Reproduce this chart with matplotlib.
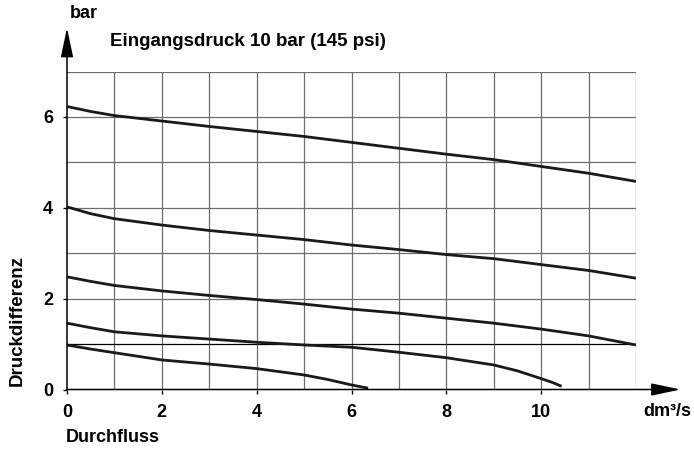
import numpy as np
import matplotlib
matplotlib.use('Agg')
import matplotlib.pyplot as plt

plt.rcParams['font.family'] = ['Liberation Sans', 'DejaVu Sans']
plt.rcParams['font.weight'] = 'bold'

# flow in dm3/s, pressure difference in bar
flow_a = [0, 0.5, 1, 2, 3, 4, 5, 6, 7, 8, 9, 10, 11, 12]
dp_a = [6.23, 6.12, 6.03, 5.91, 5.79, 5.68, 5.57, 5.44, 5.31, 5.18, 5.06, 4.91, 4.76, 4.58]

flow_b = [0, 0.5, 1, 2, 3, 4, 5, 6, 7, 8, 9, 10, 11, 12]
dp_b = [4.02, 3.87, 3.76, 3.62, 3.50, 3.40, 3.30, 3.18, 3.08, 2.97, 2.88, 2.75, 2.62, 2.45]

flow_c = [0, 0.5, 1, 2, 3, 4, 5, 6, 7, 8, 9, 10, 11, 12]
dp_c = [2.48, 2.38, 2.29, 2.17, 2.07, 1.98, 1.88, 1.77, 1.68, 1.57, 1.46, 1.33, 1.18, 0.98]

flow_d = [0, 0.5, 1, 2, 3, 4, 5, 6, 7, 8, 9, 9.5, 10, 10.25, 10.43]
dp_d = [1.46, 1.36, 1.27, 1.18, 1.11, 1.04, 0.98, 0.93, 0.82, 0.70, 0.54, 0.41, 0.24, 0.15, 0.07]

flow_e = [0, 0.5, 1, 2, 3, 4, 5, 5.5, 6, 6.35]
dp_e = [0.98, 0.89, 0.81, 0.65, 0.56, 0.46, 0.32, 0.22, 0.10, 0.03]

x_ticks = [0, 2, 4, 6, 8, 10]
y_ticks = [0, 2, 4, 6]

W, H = 694, 451
fig = plt.figure(figsize=(W / 100, H / 100), dpi=100)
ax = fig.add_axes([67 / W, (H - 389.5) / H, 569 / W, 318 / H])
ax.set_xlim(0, 12)
ax.set_ylim(0, 7)

# grid
for x in range(1, 13):
    ax.axvline(x, color='#6e6e6e', lw=0.9, zorder=1)
for y in range(1, 8):
    ax.axhline(y, color='black' if y == 1 else '#6e6e6e', lw=0.9, zorder=1)

for fx, fy in [(flow_a, dp_a), (flow_b, dp_b), (flow_c, dp_c), (flow_d, dp_d), (flow_e, dp_e)]:
    ax.plot(fx, fy, color='#1a1a1a', lw=2.0, solid_capstyle='butt', zorder=3)

for s in ax.spines.values():
    s.set_visible(False)

ax.set_xticks(x_ticks)
ax.set_yticks(y_ticks)
ax.set_xticklabels([str(v) for v in x_ticks])
ax.set_yticklabels([str(v) for v in y_ticks])
ax.tick_params(axis='both', direction='out', length=3, width=1.0, color='black',
               labelsize=13, pad=7.5)
ax.tick_params(axis='y', pad=7)

# axes with arrowheads
arrow = dict(arrowstyle='-|>,head_length=1.8,head_width=0.38', color='black',
             lw=1.1, mutation_scale=10, shrinkA=0, shrinkB=0)
ax.annotate('', xy=(12.94, 0), xytext=(0, 0), arrowprops=arrow, annotation_clip=False)
ax.annotate('', xy=(0, 7.96), xytext=(0, 0), arrowprops=arrow, annotation_clip=False)

fig.text(84 / W, 1 - 14 / H, 'bar', ha='center', va='center', fontsize=13, fontweight='bold')
fig.text(110 / W, 1 - 41 / H, 'Eingangsdruck 10 bar (145 psi)', ha='left', va='center',
         fontsize=13.5, fontweight='bold')
fig.text(17 / W, 1 - 321 / H, 'Druckdifferenz', rotation=90, ha='center', va='center',
         fontsize=13.5, fontweight='bold')
fig.text(66 / W, 1 - 437 / H, 'Durchfluss', ha='left', va='center', fontsize=13, fontweight='bold')
fig.text(643 / W, 1 - 412 / H, 'dm³/s', ha='left', va='center', fontsize=13, fontweight='bold')

fig.savefig('out.png', dpi=100)
